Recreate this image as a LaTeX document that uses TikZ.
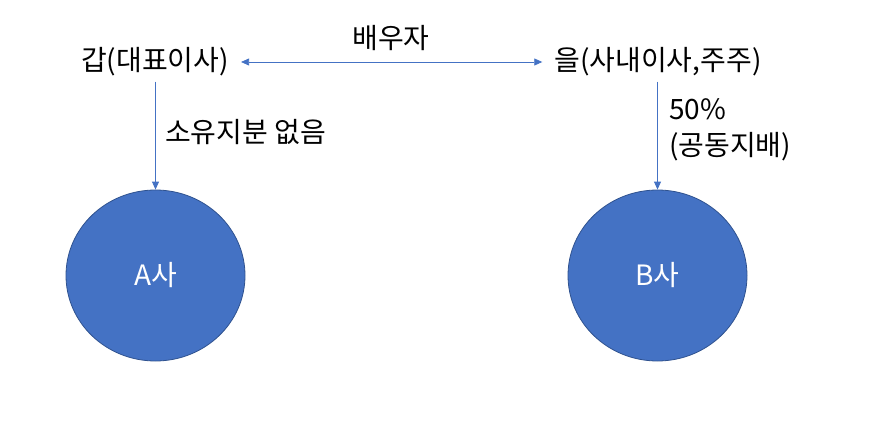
\documentclass[tikz,border=0pt]{standalone}
\usepackage{fontspec}
\setmainfont{Noto Sans CJK KR}
\usetikzlibrary{shapes.geometric, arrows.meta}
\definecolor{corpblue}{HTML}{4472C4}
\definecolor{corpedge}{HTML}{2F528F}
\tikzset{
    corp/.style={draw=corpedge, line width=0.8pt, fill=corpblue, shape=ellipse, minimum width=179pt, minimum height=171pt, text=white, font=\fontsize{28}{34}\selectfont},
    person/.style={font=\fontsize{28}{34}\selectfont, inner sep=5pt},
    lbl/.style={font=\fontsize{28}{36}\selectfont, inner sep=0pt},
    arr/.style={draw=corpblue, line width=0.8pt, -{Triangle[length=8pt, width=7pt]}}
}

\begin{document}
\begin{tikzpicture}[x=1pt, y=-1pt]
    \useasboundingbox (0,0) rectangle (891,425);
    \node(gap)[person] at (155,62) {갑(대표이사)};
    \node(eul)[person] at (658,62) {을(사내이사,주주)};
    \node(A)[corp] at (155.5,275.5) {A사};
    \node(B)[corp] at (657.5,275.5) {B사};
    \node(spouse)[lbl] at (391,38) {배우자};
    \node(noshare)[lbl, anchor=west] at (165,132) {소유지분 없음};
    \node(share)[lbl, anchor=west, align=left] at (669,130) {50\%\\(공동지배)};
    \draw[arr, {Triangle[length=8pt, width=7pt]}-{Triangle[length=8pt, width=7pt]}, shorten <=7pt, shorten >=7pt] (gap) -- (eul);
    \draw[arr] (gap.south -| A.north) -- (A.north);
    \draw[arr] (eul.south -| B.north) -- (B.north);
\end{tikzpicture}
\end{document}
